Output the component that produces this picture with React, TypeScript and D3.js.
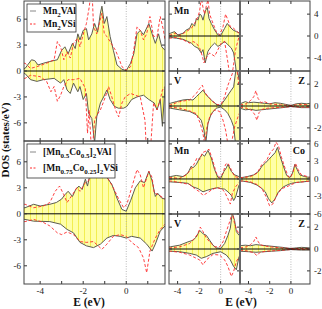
import React from 'react';
import * as d3 from 'd3';

type Pt = [number, number];

// ---- top-left: Mn2VAl (solid, filled) vs Mn2VSi (dashed), total DOS
const ltAlUp: Pt[] = [[-4.75,0.3],[-4.7,0.3],[-4.4,1.3],[-4.25,1.2],[-4.1,0.7],[-3.85,0.9],[-3.55,1.1],[-3.2,1.3],[-3.0,2.4],[-2.85,2.8],[-2.7,2.0],[-2.5,3.2],[-2.37,2.6],[-2.25,4.3],[-2.15,3.6],[-2.0,4.7],[-1.85,4.9],[-1.75,3.6],[-1.6,4.3],[-1.47,5.5],[-1.33,4.5],[-1.2,6.7],[-1.13,7.5],[-1.02,5.5],[-0.9,6.3],[-0.75,4.0],[-0.6,2.4],[-0.43,0.7],[-0.2,0.2],[0,0.05],[0.2,0.9],[0.35,2.0],[0.5,4.3],[0.65,4.7],[0.8,4.2],[1.05,5.5],[1.2,4.3],[1.35,3.2],[1.5,4.3],[1.65,2.8],[1.8,2.4]];
const ltAlDn: Pt[] = [[-4.75,-0.3],[-4.7,-0.3],[-4.45,-1.0],[-4.15,-1.2],[-3.85,-1.0],[-3.35,-0.85],[-3.05,-1.4],[-2.9,-1.0],[-2.75,-2.2],[-2.6,-2.6],[-2.45,-1.4],[-2.25,-2.4],[-2.15,-1.8],[-2.0,-3.3],[-1.85,-2.6],[-1.75,-4.9],[-1.6,-5.5],[-1.47,-8.3],[-1.37,-5.3],[-1.2,-3.7],[-1.05,-3.0],[-0.9,-2.2],[-0.75,-3.3],[-0.55,-4.1],[-0.37,-4.3],[-0.12,-4.3],[0.03,-4.1],[0.25,-3.3],[0.5,-3.0],[0.8,-2.8],[1.05,-3.3],[1.3,-3.7],[1.43,-4.5],[1.58,-3.3],[1.68,-6.4],[1.8,-1.8]];
const ltSiUp: Pt[] = [[-4.75,0.9],[-4.7,0.9],[-4.45,0.3],[-4.15,0.5],[-3.7,0.9],[-3.35,1.3],[-3.2,3.4],[-3.05,2.8],[-2.9,1.3],[-2.75,2.2],[-2.6,1.5],[-2.45,3.2],[-2.25,3.8],[-2.15,2.8],[-1.95,4.7],[-1.85,5.5],[-1.72,7.4],[-1.6,10],[-1.52,5.1],[-1.37,4.3],[-1.25,5.5],[-1.13,6.7],[-1.02,4.3],[-0.9,4.0],[-0.75,3.4],[-0.5,2.4],[-0.35,1.5],[-0.2,0.5],[0,0.1],[0.2,0.5],[0.35,2.4],[0.5,5.1],[0.65,4.7],[0.8,3.6],[0.95,4.3],[1.1,6.3],[1.27,4.0],[1.43,4.0],[1.58,6.3],[1.73,4.7],[1.8,3.6]];
const ltSiDn: Pt[] = [[-4.75,-0.85],[-4.7,-0.85],[-4.45,-0.5],[-4.0,-0.65],[-3.7,-1.2],[-3.5,-2.4],[-3.35,-1.8],[-3.2,-3.5],[-3.05,-2.8],[-2.9,-1.8],[-2.7,-1.0],[-2.45,-1.0],[-2.15,-0.85],[-1.9,-2.0],[-1.8,-7.2],[-1.72,-4.5],[-1.6,-10],[-1.47,-5.7],[-1.37,-5.1],[-1.2,-4.5],[-0.97,-3.0],[-0.82,-1.8],[-0.67,-3.0],[-0.5,-4.5],[-0.35,-5.3],[-0.2,-3.7],[-0.05,-3.0],[0.2,-2.6],[0.42,-2.8],[0.65,-3.0],[0.87,-5.7],[0.95,-10],[1.1,-10],[1.27,-3.7],[1.43,-4.5],[1.58,-3.3],[1.68,-2.2],[1.8,-1.8]];

// ---- bottom-left: [Mn0.5Co0.5]2VAl vs [Mn0.75Co0.25]2VSi, total DOS
const lbAlUp: Pt[] = [[-4.75,0.7],[-4.7,0.7],[-4.3,1.1],[-4.0,0.9],[-3.55,1.1],[-3.25,1.3],[-3.0,1.7],[-2.85,2.2],[-2.7,2.6],[-2.5,2.0],[-2.35,2.8],[-2.2,3.2],[-2.05,2.8],[-1.9,4.0],[-1.8,3.2],[-1.67,4.7],[-1.52,5.9],[-1.37,5.7],[-1.25,6.3],[-1.13,5.3],[-0.9,4.2],[-0.67,3.4],[-0.43,1.8],[-0.2,0.5],[0,0.3],[0.2,1.5],[0.42,3.0],[0.65,3.8],[0.85,3.6],[1.05,4.9],[1.2,3.8],[1.35,2.0],[1.45,2.4],[1.65,1.8],[1.8,1.7]];
const lbAlDn: Pt[] = [[-4.75,-0.65],[-4.7,-0.65],[-4.3,-0.85],[-3.55,-0.9],[-3.05,-1.2],[-2.75,-1.8],[-2.45,-2.2],[-2.15,-3.3],[-1.85,-3.7],[-1.52,-3.9],[-1.2,-3.5],[-0.9,-2.8],[-0.6,-2.5],[-0.28,-2.6],[0,-2.8],[0.25,-2.6],[0.65,-2.8],[0.95,-3.5],[1.2,-4.3],[1.35,-3.5],[1.58,-2.0],[1.8,-1.4]];
const lbSiUp: Pt[] = [[-4.75,1.1],[-4.7,1.1],[-4.3,0.7],[-3.85,0.9],[-3.55,1.3],[-3.3,2.6],[-3.1,3.2],[-2.9,2.2],[-2.75,1.3],[-2.5,2.2],[-2.3,3.0],[-2.15,2.6],[-1.9,3.6],[-1.75,3.8],[-1.6,5.3],[-1.45,6.5],[-1.2,5.7],[-0.9,4.3],[-0.6,3.0],[-0.35,1.7],[-0.12,0.7],[0.03,1.1],[0.25,3.0],[0.5,5.1],[0.65,4.5],[0.8,3.0],[1.05,4.9],[1.2,4.2],[1.3,2.4],[1.5,2.2],[1.8,1.7]];
const lbSiDn: Pt[] = [[-4.75,-0.9],[-4.7,-0.9],[-4.3,-0.65],[-3.85,-1.0],[-3.55,-1.4],[-3.2,-2.2],[-3.0,-2.4],[-2.75,-2.1],[-2.45,-2.4],[-2.15,-3.2],[-1.85,-3.3],[-1.52,-3.2],[-1.13,-4.1],[-0.9,-3.5],[-0.6,-2.6],[-0.28,-2.4],[0,-2.6],[0.25,-3.3],[0.57,-3.9],[0.8,-5.1],[0.95,-6.8],[1.1,-4.3],[1.35,-2.8],[1.58,-1.8],[1.8,-1.2]];

// ---- right, row 1: Mn partial (Mn2VAl / Mn2VSi)
const r1MnAlUp: Pt[] = [[-4.8,0.4],[-4.68,0.5],[-4.28,0.8],[-3.97,0.2],[-3.5,0.5],[-3.19,1.1],[-2.88,1.4],[-2.67,2.3],[-2.42,1.8],[-2.26,3.2],[-2.11,2.9],[-1.95,4.0],[-1.8,3.8],[-1.64,2.9],[-1.43,4.6],[-1.24,5.2],[-1.08,3.2],[-0.87,2.3],[-0.56,1.1],[-0.25,0.2],[0,0.1],[0.37,1.4],[0.62,2.3],[0.84,1.7],[1.15,1.1],[1.46,0.8],[1.71,0.6],[1.8,0.6]];
const r1MnSiUp: Pt[] = [[-4.8,0.2],[-4.68,0.2],[-4.28,0.5],[-3.81,0.1],[-3.19,0.8],[-2.73,1.4],[-2.42,2.3],[-2.11,3.5],[-1.95,4.6],[-1.8,7.0],[-1.64,5.2],[-1.49,4.0],[-1.33,5.5],[-1.18,6.6],[-1.02,4.0],[-0.71,2.3],[-0.4,0.8],[-0.09,0.2],[0.22,1.7],[0.46,4.0],[0.68,2.9],[0.9,1.7],[1.21,1.4],[1.71,0.5],[1.8,0.5]];
const r1MnAlDn: Pt[] = [[-4.8,-0.25],[-4.68,-0.25],[-4.12,-0.4],[-3.5,-0.6],[-3.04,-1.0],[-2.73,-1.3],[-2.42,-1.9],[-2.11,-2.2],[-1.8,-3.1],[-1.64,-2.5],[-1.43,-4.9],[-1.18,-2.8],[-0.87,-1.9],[-0.56,-1.3],[-0.25,-1.9],[0,-1.6],[0.37,-1.0],[0.68,-1.6],[0.99,-2.2],[1.21,-3.1],[1.39,-5.5],[1.52,-8],[1.71,-8],[1.8,-8]];
const r1MnSiDn: Pt[] = [[-4.8,-0.4],[-4.68,-0.4],[-4.12,-0.25],[-3.5,-0.7],[-2.88,-1.3],[-2.57,-1.0],[-2.26,-1.3],[-1.95,-2.2],[-1.7,-3.7],[-1.55,-4.9],[-1.33,-4.0],[-1.02,-3.1],[-0.56,-3.7],[-0.25,-2.5],[0.06,-1.3],[0.37,-1.0],[0.68,-4.9],[0.9,-8],[1.15,-6],[1.39,-2.5],[1.71,-0.1],[1.8,-0.1]];

// ---- right, row 2: V and Z partials (Mn2VAl / Mn2VSi)
const r2VAlUp: Pt[] = [[-4.8,0.25],[-4.68,0.25],[-4.12,0.4],[-3.5,0.55],[-3.04,0.6],[-2.57,0.55],[-2.26,0.85],[-1.95,1.15],[-1.64,1.45],[-1.33,1.0],[-1.02,0.7],[-0.71,0.4],[-0.34,0.1],[0,0.05],[0.37,0.55],[0.68,1.0],[0.99,1.45],[1.21,1.75],[1.39,3.1],[1.52,3.6],[1.71,2.4],[1.8,2.4]];
const r2VSiUp: Pt[] = [[-4.8,0.1],[-4.68,0.1],[-3.81,0.4],[-2.88,0.55],[-2.26,1.15],[-1.95,1.6],[-1.7,1.9],[-1.49,1.3],[-1.18,0.85],[-0.71,0.4],[-0.25,0.1],[0.06,0.2],[0.37,0.85],[0.68,1.9],[0.99,2.7],[1.21,3.3],[1.46,3.8],[1.71,1.75],[1.8,1.7]];
const r2VAlDn: Pt[] = [[-4.8,-0.2],[-4.68,-0.2],[-3.81,-0.35],[-2.88,-0.5],[-2.26,-0.8],[-1.8,-1.3],[-1.55,-2.2],[-1.39,-3.5],[-1.18,-1.6],[-0.87,-0.7],[-0.4,-0.2],[0,-0.1],[0.37,-0.35],[0.68,-0.7],[0.99,-1.3],[1.21,-1.9],[1.39,-3.5],[1.71,-3.5],[1.8,-3.5]];
const r2VSiDn: Pt[] = [[-4.8,-0.1],[-4.68,-0.1],[-3.81,-0.2],[-2.88,-0.45],[-2.26,-0.7],[-1.89,-1.6],[-1.64,-2.5],[-1.49,-3.5],[-1.27,-1.9],[-1.02,-1.0],[-0.56,-0.35],[-0.09,-0.5],[0.22,-1.3],[0.46,-2.2],[0.68,-3.5],[0.99,-3.5],[1.3,-1.9],[1.71,-0.7],[1.8,-0.7]];
const r2ZAlUp: Pt[] = [[-4.8,0.2],[-4.3,0.4],[-4.0,0.3],[-3.5,0.35],[-3.0,0.3],[-2.5,0.25],[-2.0,0.2],[-1.5,0.3],[-1.0,0.25],[-0.5,0.15],[0,0.05],[0.5,0.2],[1.0,0.25],[1.5,0.2],[1.8,0.25]];
const r2ZSiUp: Pt[] = [[-4.8,0.1],[-4.2,0.2],[-3.8,0.5],[-3.5,0.85],[-3.3,1.4],[-3.1,0.7],[-2.8,0.3],[-2.5,0.4],[-2.0,0.2],[-1.5,0.15],[-1.0,0.1],[0,0.05],[0.5,0.1],[1.0,0.15],[1.8,0.1]];
const r2ZAlDn: Pt[] = [[-4.8,-0.2],[-4.3,-0.35],[-3.8,-0.3],[-3.3,-0.4],[-2.8,-0.35],[-2.3,-0.3],[-1.8,-0.25],[-1.3,-0.2],[-0.8,-0.15],[0,-0.05],[0.5,-0.1],[1.0,-0.15],[1.8,-0.15]];
const r2ZSiDn: Pt[] = [[-4.8,-0.1],[-4.2,-0.2],[-3.7,-0.4],[-3.4,-0.8],[-3.2,-1.3],[-3.0,-0.6],[-2.7,-0.3],[-2.2,-0.2],[-1.5,-0.15],[-0.5,-0.1],[0,-0.05],[1.0,-0.1],[1.8,-0.1]];

// ---- right, row 3: Mn and Co partials (Co-substituted alloys)
const r3MnAlUp: Pt[] = [[-4.8,0.4],[-4.68,0.4],[-4.12,0.6],[-3.5,0.4],[-3.04,1.0],[-2.73,2.2],[-2.57,1.9],[-2.26,2.5],[-1.95,3.6],[-1.7,4.2],[-1.49,3.9],[-1.18,4.9],[-0.87,3.6],[-0.56,1.6],[-0.25,0.25],[0,0.1],[0.31,1.3],[0.53,1.9],[0.68,2.5],[0.99,1.3],[1.3,0.7],[1.71,0.4],[1.8,0.4]];
const r3MnSiUp: Pt[] = [[-4.8,0.25],[-4.68,0.25],[-3.81,0.1],[-3.19,0.7],[-2.79,1.6],[-2.42,2.7],[-2.2,3.6],[-1.95,3.3],[-1.7,4.5],[-1.33,4.8],[-1.08,5.1],[-0.71,3.0],[-0.4,1.0],[-0.09,0.25],[0.22,1.0],[0.46,2.5],[0.68,2.7],[0.99,1.6],[1.3,0.4],[1.71,0.25],[1.8,0.25]];
const r3MnAlDn: Pt[] = [[-4.8,-0.5],[-4.68,-0.5],[-3.81,-0.6],[-3.04,-0.75],[-2.57,-1.35],[-2.11,-1.65],[-1.64,-2.2],[-1.18,-1.9],[-0.71,-1.65],[-0.25,-1.5],[0,-1.65],[0.37,-1.75],[0.68,-2.2],[0.99,-2.8],[1.21,-3.7],[1.39,-3.1],[1.71,-1.05],[1.8,-1.0]];
const r3MnSiDn: Pt[] = [[-4.8,-0.35],[-4.68,-0.35],[-3.81,-0.6],[-2.88,-0.95],[-2.42,-1.65],[-1.95,-2.2],[-1.64,-2.8],[-1.33,-2.5],[-0.87,-1.9],[-0.4,-1.5],[0.06,-1.65],[0.37,-2.2],[0.68,-3.4],[0.9,-4.3],[1.08,-2.5],[1.39,-1.35],[1.71,-0.6],[1.8,-0.6]];
const r3CoAlUp: Pt[] = [[-4.8,0.25],[-4.59,0.25],[-4.12,0.4],[-3.5,0.7],[-3.04,1.3],[-2.73,2.2],[-2.42,2.7],[-2.11,3.3],[-1.8,3.9],[-1.49,4.5],[-1.27,5.4],[-1.02,3.9],[-0.71,2.2],[-0.4,0.6],[-0.09,0.25],[0.15,1.0],[0.37,2.5],[0.59,1.6],[0.84,0.7],[1.3,0.4],[1.8,0.25]];
const r3CoSiUp: Pt[] = [[-4.8,0.25],[-4.59,0.25],[-3.81,0.4],[-3.19,1.0],[-2.73,2.5],[-2.26,3.3],[-1.95,4.5],[-1.64,5.1],[-1.4,6.3],[-1.18,5.7],[-0.87,3.6],[-0.56,1.9],[-0.25,0.4],[-0.03,0.25],[0.22,1.3],[0.43,2.7],[0.68,1.6],[0.99,0.7],[1.8,0.3]];
const r3CoAlDn: Pt[] = [[-4.8,-0.35],[-4.59,-0.35],[-3.81,-0.6],[-3.19,-1.05],[-2.73,-1.65],[-2.42,-2.2],[-2.11,-3.4],[-1.8,-4.1],[-1.49,-3.4],[-1.18,-2.2],[-0.71,-1.35],[-0.25,-0.95],[0.06,-0.75],[0.53,-0.6],[1.15,-0.5],[1.8,-0.35]];
const r3CoSiDn: Pt[] = [[-4.8,-0.35],[-4.59,-0.35],[-3.81,-0.5],[-3.19,-0.95],[-2.73,-1.65],[-2.33,-3.1],[-2.01,-4.6],[-1.71,-4.3],[-1.33,-2.8],[-0.87,-1.65],[-0.4,-1.35],[0.06,-0.95],[0.53,-0.6],[1.8,-0.35]];

// ---- right, row 4: V and Z partials (Co-substituted alloys)
const r4VAlUp: Pt[] = [[-4.8,0.2],[-4.68,0.2],[-3.81,0.35],[-3.04,0.65],[-2.57,0.8],[-2.26,1.1],[-1.95,1.7],[-1.64,1.4],[-1.33,1.25],[-1.02,0.8],[-0.71,0.35],[-0.4,0.1],[0,0.05],[0.37,0.5],[0.68,1.25],[0.9,1.9],[1.08,3.3],[1.3,2.6],[1.46,1.6],[1.71,1.25],[1.8,1.2]];
const r4VSiUp: Pt[] = [[-4.8,0.1],[-4.68,0.1],[-3.81,0.2],[-2.88,0.5],[-2.42,1.0],[-2.11,1.4],[-1.89,2.0],[-1.64,1.6],[-1.33,1.0],[-1.02,0.65],[-0.56,0.2],[-0.09,0.2],[0.22,0.65],[0.53,1.6],[0.84,2.5],[1.08,3.3],[1.3,2.3],[1.52,1.7],[1.71,1.4],[1.8,1.4]];
const r4VAlDn: Pt[] = [[-4.8,-0.2],[-4.68,-0.2],[-3.81,-0.25],[-2.88,-0.4],[-2.26,-0.55],[-1.8,-0.85],[-1.33,-0.7],[-0.71,-0.4],[0,-0.25],[0.53,-0.55],[0.9,-1.0],[1.21,-1.6],[1.46,-1.9],[1.71,-0.7],[1.8,-0.7]];
const r4VSiDn: Pt[] = [[-4.8,-0.2],[-4.68,-0.2],[-3.81,-0.3],[-2.88,-0.55],[-2.26,-0.85],[-1.95,-1.0],[-1.64,-1.45],[-1.33,-1.0],[-0.71,-0.5],[-0.09,-0.55],[0.37,-1.0],[0.68,-1.6],[0.99,-2.5],[1.21,-2.05],[1.46,-1.15],[1.71,-0.7],[1.8,-0.7]];
const r4ZAlUp: Pt[] = [[-4.8,0.3],[-4.3,0.35],[-3.8,0.3],[-3.3,0.4],[-2.8,0.35],[-2.3,0.3],[-1.8,0.25],[-1.3,0.2],[-0.8,0.15],[-0.3,0.08],[0,0.05],[0.5,0.1],[1.0,0.15],[1.8,0.1]];
const r4ZSiUp: Pt[] = [[-4.8,0.1],[-4.2,0.2],[-3.8,0.4],[-3.5,0.7],[-3.3,1.1],[-3.1,0.7],[-2.9,0.4],[-2.6,0.3],[-2.0,0.2],[-1.5,0.15],[-1.0,0.1],[0,0.05],[1.0,0.05],[1.8,0.05]];
const r4ZAlDn: Pt[] = [[-4.8,-0.2],[-4.0,-0.25],[-3.3,-0.3],[-2.5,-0.25],[-1.8,-0.2],[-1.0,-0.15],[0,-0.05],[1.0,-0.1],[1.8,-0.1]];
const r4ZSiDn: Pt[] = [[-4.8,-0.1],[-4.0,-0.2],[-3.5,-0.35],[-3.2,-0.6],[-2.9,-0.3],[-2.3,-0.2],[-1.5,-0.15],[0,-0.05],[1.8,-0.05]];

// ticks
const leftXTicks = [-4, -3, -2, -1, 0, 1];
const leftXLabels = [-4, -2, 0];
const rightXTicks = [-4, -2, 0];
const leftYTicks = [-6, -3, 0, 3, 6];
const row1Ticks = [-4, 0, 4];
const row2Ticks = [-2, 0, 2];
const row3Ticks = [-6, -3, 0, 3, 6];

const FONT = '"Liberation Serif", "DejaVu Serif", "Times New Roman", serif';
const SOLID = '#5c5c50';
const RED = '#ff2a2a';
const FILL = 'url(#dosHatch)';

interface PanelProps {
    id: string;
    x0: number; x1: number; y0: number; y1: number;
    xDom: [number, number];
    yDom: [number, number];
    xTicks: number[];
    xLabels?: number[];
    yTicks: number[];
    yLabelSide?: 'left' | 'right';
    alUp?: Pt[]; alDn?: Pt[]; siUp?: Pt[]; siDn?: Pt[];
    label?: string;
    labelRight?: boolean;
}

const Panel: React.FC<PanelProps> = (p) => {
    const x = d3.scaleLinear().domain(p.xDom).range([p.x0, p.x1]);
    const y = d3.scaleLinear().domain(p.yDom).range([p.y1, p.y0]);
    const line = d3.line<Pt>().x(d => x(d[0])).y(d => y(d[1]));
    const area = d3.area<Pt>().x(d => x(d[0])).y0(y(0)).y1(d => y(d[1]));
    const hasData = !!p.alUp;
    const tl = 3;

    return (
        <g>
            <clipPath id={`clip-${p.id}`}>
                <rect x={p.x0} y={p.y0} width={p.x1 - p.x0} height={p.y1 - p.y0} />
            </clipPath>
            {hasData && (
                <g clipPath={`url(#clip-${p.id})`}>
                    <path d={area(p.alUp!) || ''} fill={FILL} />
                    <path d={area(p.alDn!) || ''} fill={FILL} />
                    <line x1={x(0)} x2={x(0)} y1={p.y0} y2={p.y1} stroke="#aaa" strokeWidth={0.8} strokeDasharray="1,1.5" />
                    <path d={line(p.alUp!) || ''} fill="none" stroke={SOLID} strokeWidth={1} />
                    <path d={line(p.alDn!) || ''} fill="none" stroke={SOLID} strokeWidth={1} />
                    <path d={line(p.siUp!) || ''} fill="none" stroke={RED} strokeWidth={0.9} strokeDasharray="3,2" />
                    <path d={line(p.siDn!) || ''} fill="none" stroke={RED} strokeWidth={0.9} strokeDasharray="3,2" />
                    <line x1={p.x0} x2={p.x1} y1={y(0)} y2={y(0)} stroke="#000" strokeWidth={1} />
                </g>
            )}
            {/* mirrored inward ticks */}
            {p.xTicks.map(t => (
                <g key={`xt${t}`}>
                    <line x1={x(t)} x2={x(t)} y1={p.y1} y2={p.y1 - tl} stroke="#333" />
                    <line x1={x(t)} x2={x(t)} y1={p.y0} y2={p.y0 + tl} stroke="#333" />
                </g>
            ))}
            {p.yTicks.map(t => (
                <g key={`yt${t}`}>
                    <line x1={p.x0} x2={p.x0 + tl} y1={y(t)} y2={y(t)} stroke="#333" />
                    <line x1={p.x1} x2={p.x1 - tl} y1={y(t)} y2={y(t)} stroke="#333" />
                </g>
            ))}
            <rect x={p.x0} y={p.y0} width={p.x1 - p.x0} height={p.y1 - p.y0} fill="none" stroke="#444" strokeWidth={1} />
            {(p.xLabels || []).map(t => (
                <text key={`xl${t}`} x={x(t)} y={p.y1 + 9.5} textAnchor="middle" fontSize={9} fontFamily={FONT} fill="#222">{t}</text>
            ))}
            {p.yLabelSide && p.yTicks.map(t => (
                <text key={`yl${t}`}
                    x={p.yLabelSide === 'left' ? p.x0 - 3 : p.x1 + 4}
                    y={y(t) + 3}
                    textAnchor={p.yLabelSide === 'left' ? 'end' : 'start'}
                    fontSize={9} fontFamily={FONT} fill="#222">{t}</text>
            ))}
            {p.label && (
                <text x={p.labelRight ? p.x1 - 5 : p.x0 + 5} y={p.y0 + 13}
                    textAnchor={p.labelRight ? 'end' : 'start'}
                    fontSize={10} fontWeight="bold" fontFamily={FONT} fill="#111">{p.label}</text>
            )}
        </g>
    );
};

const Sub: React.FC<{ t: string }> = ({ t }) => (
    <tspan fontSize={7} dy={2.5}>{t}</tspan>
);

const App: React.FC = () => {
    const L = { x0: 24, x1: 165 };
    const C1 = { x0: 169, x1: 240 };
    const C2 = { x0: 240, x1: 310 };
    const rxDom: [number, number] = [-4.8, 1.8];
    const rows = [
        { y0: 1, y1: 71, dom: [-6.4, 6.4] as [number, number], ticks: row1Ticks },
        { y0: 71, y1: 141, dom: [-3.2, 3.2] as [number, number], ticks: row2Ticks },
        { y0: 141, y1: 214, dom: [-6.0, 6.5] as [number, number], ticks: row3Ticks },
        { y0: 214, y1: 284, dom: [-3.2, 3.2] as [number, number], ticks: row2Ticks },
    ];

    return (
        <svg width={322} height={309} style={{ position: 'absolute', left: 0, top: 0, background: '#fff' }}>
            <defs>
                <pattern id="dosHatch" width={6} height={10} patternUnits="userSpaceOnUse">
                    <rect width={6} height={10} fill="#ffffa8" />
                    <line x1={0.5} x2={0.5} y1={0} y2={10} stroke="#f2ee50" strokeWidth={1} />
                </pattern>
            </defs>

            {/* left column: totals */}
            <Panel id="lt" {...L} y0={1} y1={141} xDom={[-4.75, 1.8]} yDom={[-8.1, 8.1]}
                xTicks={leftXTicks} yTicks={leftYTicks} yLabelSide="left"
                alUp={ltAlUp} alDn={ltAlDn} siUp={ltSiUp} siDn={ltSiDn} />
            <Panel id="lb" {...L} y0={141} y1={284} xDom={[-4.75, 1.8]} yDom={[-8.1, 8.4]}
                xTicks={leftXTicks} xLabels={leftXLabels} yTicks={leftYTicks} yLabelSide="left"
                alUp={lbAlUp} alDn={lbAlDn} siUp={lbSiUp} siDn={lbSiDn} />

            {/* right column: partials */}
            <Panel id="r1a" {...C1} y0={rows[0].y0} y1={rows[0].y1} xDom={rxDom} yDom={rows[0].dom}
                xTicks={rightXTicks} yTicks={rows[0].ticks} label="Mn"
                alUp={r1MnAlUp} alDn={r1MnAlDn} siUp={r1MnSiUp} siDn={r1MnSiDn} />
            <Panel id="r1b" {...C2} y0={rows[0].y0} y1={rows[0].y1} xDom={rxDom} yDom={rows[0].dom}
                xTicks={rightXTicks} yTicks={rows[0].ticks} yLabelSide="right" />
            <Panel id="r2a" {...C1} y0={rows[1].y0} y1={rows[1].y1} xDom={rxDom} yDom={rows[1].dom}
                xTicks={rightXTicks} yTicks={rows[1].ticks} label="V"
                alUp={r2VAlUp} alDn={r2VAlDn} siUp={r2VSiUp} siDn={r2VSiDn} />
            <Panel id="r2b" {...C2} y0={rows[1].y0} y1={rows[1].y1} xDom={rxDom} yDom={rows[1].dom}
                xTicks={rightXTicks} yTicks={rows[1].ticks} yLabelSide="right" label="Z" labelRight
                alUp={r2ZAlUp} alDn={r2ZAlDn} siUp={r2ZSiUp} siDn={r2ZSiDn} />
            <Panel id="r3a" {...C1} y0={rows[2].y0} y1={rows[2].y1} xDom={rxDom} yDom={rows[2].dom}
                xTicks={rightXTicks} yTicks={rows[2].ticks} label="Mn"
                alUp={r3MnAlUp} alDn={r3MnAlDn} siUp={r3MnSiUp} siDn={r3MnSiDn} />
            <Panel id="r3b" {...C2} y0={rows[2].y0} y1={rows[2].y1} xDom={rxDom} yDom={rows[2].dom}
                xTicks={rightXTicks} yTicks={rows[2].ticks} yLabelSide="right" label="Co" labelRight
                alUp={r3CoAlUp} alDn={r3CoAlDn} siUp={r3CoSiUp} siDn={r3CoSiDn} />
            <Panel id="r4a" {...C1} y0={rows[3].y0} y1={rows[3].y1} xDom={rxDom} yDom={rows[3].dom}
                xTicks={rightXTicks} xLabels={rightXTicks} yTicks={rows[3].ticks} label="V"
                alUp={r4VAlUp} alDn={r4VAlDn} siUp={r4VSiUp} siDn={r4VSiDn} />
            <Panel id="r4b" {...C2} y0={rows[3].y0} y1={rows[3].y1} xDom={rxDom} yDom={rows[3].dom}
                xTicks={rightXTicks} xLabels={rightXTicks} yTicks={rows[3].ticks} yLabelSide="right" label="Z" labelRight
                alUp={r4ZAlUp} alDn={r4ZAlDn} siUp={r4ZSiUp} siDn={r4ZSiDn} />

            {/* heavier divider between the two partial columns */}
            <line x1={240} x2={240} y1={1} y2={284} stroke="#666" strokeWidth={2} />

            {/* legends */}
            <g fontFamily={FONT} fontWeight="bold" fontSize={9.5} fill="#111">
                <rect x={27} y={4} width={49} height={28} fill="#fff" stroke="#333" strokeWidth={0.8} />
                <line x1={30} x2={36} y1={11} y2={11} stroke="#888" />
                <line x1={30} x2={36} y1={24} y2={24} stroke={RED} strokeDasharray="2,1.5" />
                <text x={43} y={14}>Mn<Sub t="2" /><tspan dy={-2.5}>VAl</tspan></text>
                <text x={43} y={27}>Mn<Sub t="2" /><tspan dy={-2.5}>VSi</tspan></text>

                <rect x={27} y={144} width={88} height={34} fill="#fff" stroke="#333" strokeWidth={0.8} />
                <line x1={30} x2={36} y1={152} y2={152} stroke="#888" />
                <line x1={30} x2={36} y1={168} y2={168} stroke={RED} strokeDasharray="2,1.5" />
                <text x={43} y={155}>[Mn<Sub t="0.5" /><tspan dy={-2.5}>Co</tspan><Sub t="0.5" /><tspan dy={-2.5}>]</tspan><Sub t="2" /><tspan dy={-2.5}>VAl</tspan></text>
                <text x={43} y={171}>[Mn<Sub t="0.75" /><tspan dy={-2.5}>Co</tspan><Sub t="0.25" /><tspan dy={-2.5}>]</tspan><Sub t="2" /><tspan dy={-2.5}>VSi</tspan></text>
            </g>

            {/* axis titles */}
            <text transform="translate(9,140) rotate(-90)" textAnchor="middle" fontFamily={FONT}
                fontWeight="bold" fontSize={11} fill="#111">DOS (states/eV)</text>
            <text x={89} y={306} textAnchor="middle" fontFamily={FONT} fontWeight="bold" fontSize={11.5} fill="#111">E (eV)</text>
            <text x={241} y={306} textAnchor="middle" fontFamily={FONT} fontWeight="bold" fontSize={11.5} fill="#111">E (eV)</text>
        </svg>
    );
};

export default App;
